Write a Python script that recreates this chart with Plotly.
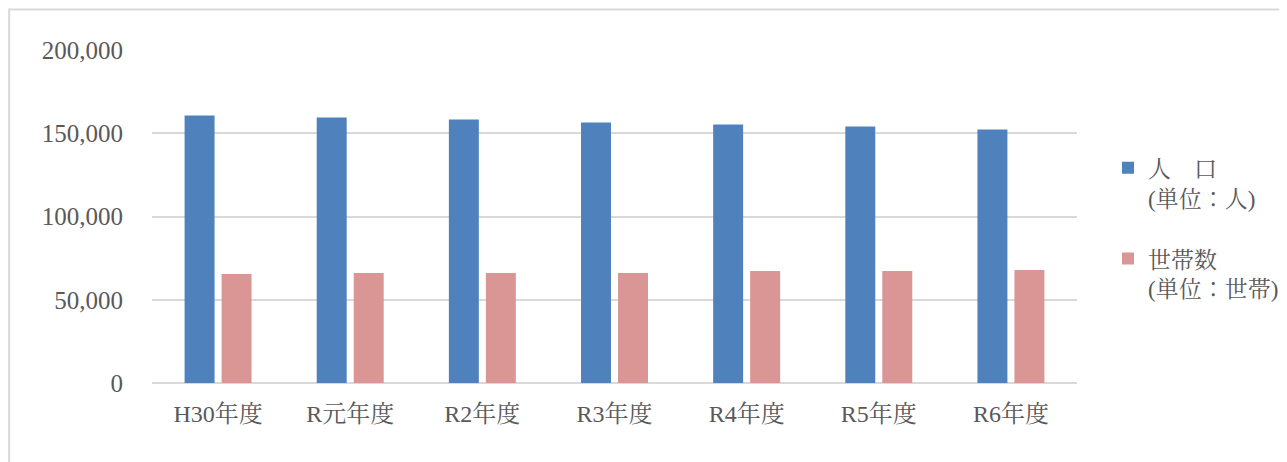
import plotly.graph_objects as go

categories = ["H30年度", "R元年度", "R2年度", "R3年度", "R4年度", "R5年度", "R6年度"]
population = [160700, 159500, 158300, 156500, 155300, 154100, 152300]
households = [65400, 66000, 66000, 66000, 67200, 67200, 67800]
series_names = ["人　口<br>(単位：人)", "世帯数<br>(単位：世帯)"]
tick_vals = [0, 50000, 100000, 150000, 200000]
tick_text = ["0", "50,000", "100,000", "150,000", "200,000"]

FONT = "Liberation Serif, 'Noto Serif CJK JP', 'Noto Sans CJK JP', serif"
GRAY = "#595959"

fig = go.Figure()
fig.add_trace(go.Bar(x=categories, y=population, name=series_names[0],
                     legendgroup="a",
                     marker=dict(color="#4f81bd", line=dict(width=0))))
fig.add_trace(go.Bar(x=categories, y=households, name=series_names[1],
                     legendgroup="b",
                     marker=dict(color="#d99694", line=dict(width=0))))

W, H = 1287, 462
OFF = 8  # page body margin
L, R, T, B = 152 - OFF, 1078 - OFF, 49.5 - OFF, 383 - OFF
pw, ph = R - L, B - T

def px(x):
    x = x - OFF
    return (x - L) / pw

def py(y):
    y = y - OFF
    return (B - y) / ph

fig.update_layout(
    width=W, height=H,
    margin=dict(l=L, r=W - R, t=T, b=H - B),
    paper_bgcolor="white", plot_bgcolor="white",
    barmode="group", bargap=0.44, bargroupgap=0.19,
    font=dict(family=FONT, color=GRAY, size=24),
    legend=dict(x=px(1108), y=py(146), xanchor="left", yanchor="top",
                valign="top", traceorder="grouped", tracegroupgap=28,
                font=dict(family=FONT, color=GRAY, size=23),
                itemwidth=30, bgcolor="rgba(0,0,0,0)"),
    shapes=[dict(type="rect", xref="paper", yref="paper",
                 x0=px(9), x1=px(1310), y0=py(480), y1=py(9),
                 line=dict(color="#d9d9d9", width=2), layer="below")],
)
fig.update_yaxes(range=[0, 200000], tickvals=tick_vals, ticktext=tick_text,
                 showgrid=True, gridcolor="#d9d9d9", gridwidth=1.5,
                 zeroline=True, zerolinecolor="#d9d9d9", zerolinewidth=1.5,
                 showline=False, ticks="", ticklabelstandoff=28,
                 tickfont=dict(family=FONT, color=GRAY, size=25))
fig.update_xaxes(showgrid=False, showline=False, ticks="",
                 ticklabelstandoff=14,
                 tickfont=dict(family=FONT, color=GRAY, size=24))

fig.write_html("out.html")
